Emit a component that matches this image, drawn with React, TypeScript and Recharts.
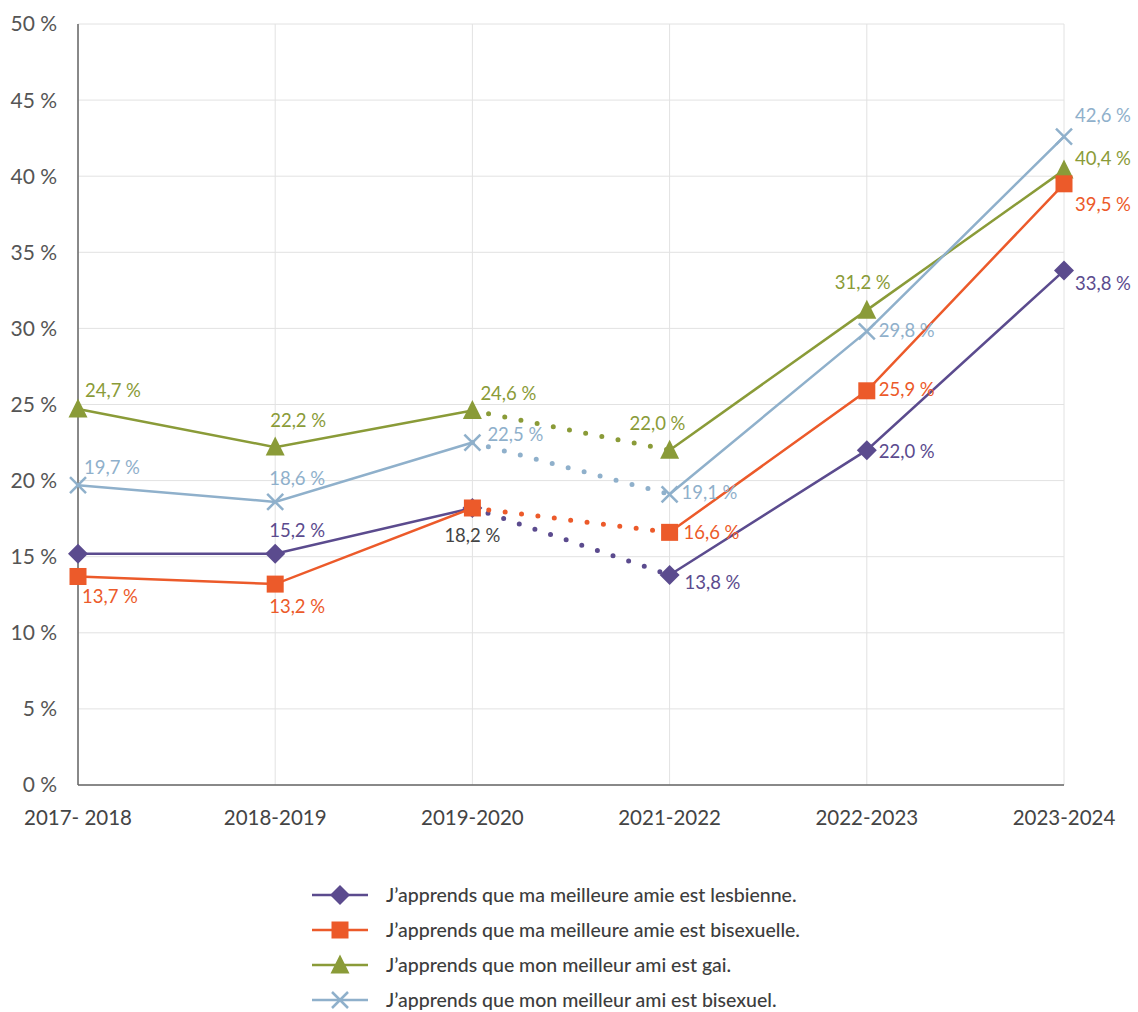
import React from 'react';
import { LineChart, Line, XAxis, YAxis, CartesianGrid, LabelList, Legend } from 'recharts';

const categories = ['2017- 2018', '2018-2019', '2019-2020', '2021-2022', '2022-2023', '2023-2024'];
const lesbienne = [15.2, 15.2, 18.2, 13.8, 22.0, 33.8];
const bisexuelle = [13.7, 13.2, 18.2, 16.6, 25.9, 39.5];
const gai = [24.7, 22.2, 24.6, 22.0, 31.2, 40.4];
const bisexuel = [19.7, 18.6, 22.5, 19.1, 29.8, 42.6];
const yTicks = [0, 5, 10, 15, 20, 25, 30, 35, 40, 45, 50];
const names = [
  'J\u2019apprends que ma meilleure amie est lesbienne.',
  'J\u2019apprends que ma meilleure amie est bisexuelle.',
  'J\u2019apprends que mon meilleur ami est gai.',
  'J\u2019apprends que mon meilleur ami est bisexuel.',
];
// dotted (missing year) segment between these indices
const gapStart = 2;
const gapEnd = 3;

// label placement (layout only): [dx, dy] from the point, null = no label
const placeLes: ([number, number] | null)[] = [null, [-6, -24], [-28, 27], [15, 7], [12, 1], [11, 12]];
const placeBisF: ([number, number] | null)[] = [[4, 20], [-6, 22], null, [14, 0], [12, -2], [11, 20]];
const placeGai: ([number, number] | null)[] = [[7, -19], [-5, -27], [8, -18], [-40, -27], [-32, -28], [11, -12]];
const placeBisM: ([number, number] | null)[] = [[6, -18], [-6, -24], [15, -9], [12, -2], [12, -1], [11, -22]];

const FONT = 'Lato, "Noto Sans", sans-serif';
const PURPLE = '#5b4b8e';
const ORANGE = '#ec5a2a';
const GREEN = '#8a9b38';
const BLUE = '#8fb0cb';

const fmt = (v: number) => v.toFixed(1).replace('.', ',') + '\u202f%';

const Diamond = ({ cx, cy, color, s = 10 }: any) => (
  <polygon points={`${cx},${cy - s} ${cx + s},${cy} ${cx},${cy + s} ${cx - s},${cy}`} fill={color} />
);
const Square = ({ cx, cy, color, s = 8.5 }: any) => (
  <rect x={cx - s} y={cy - s} width={2 * s} height={2 * s} fill={color} />
);
const Triangle = ({ cx, cy, color, s = 9.5 }: any) => (
  <polygon points={`${cx},${cy - s - 1} ${cx + s},${cy + s - 1} ${cx - s},${cy + s - 1}`} fill={color} />
);
const Cross = ({ cx, cy, color, s = 8 }: any) => (
  <g stroke={color} strokeWidth={2.5}>
    <line x1={cx - s} y1={cy - s} x2={cx + s} y2={cy + s} />
    <line x1={cx - s} y1={cy + s} x2={cx + s} y2={cy - s} />
  </g>
);

const SERIES = [
  { key: 'les', name: names[0], color: PURPLE, values: lesbienne, Shape: Diamond, place: placeLes },
  { key: 'gai', name: names[2], color: GREEN, values: gai, Shape: Triangle, place: placeGai },
  { key: 'bism', name: names[3], color: BLUE, values: bisexuel, Shape: Cross, place: placeBisM },
  { key: 'bisf', name: names[1], color: ORANGE, values: bisexuelle, Shape: Square, place: placeBisF },
];
const LEGEND_ORDER = ['les', 'bisf', 'gai', 'bism'];

const data = categories.map((cat, i) => {
  const row: any = { cat };
  SERIES.forEach((s) => {
    const v = s.values[i];
    row[s.key] = v;
    row[s.key + 'A'] = i <= gapStart ? v : null;
    row[s.key + 'B'] = i >= gapEnd ? v : null;
    row[s.key + 'D'] = i === gapStart || i === gapEnd ? v : null;
  });
  return row;
});

const makeLabel = (s: any) => (props: any) => {
  const { x, y, value, index } = props;
  const p = s.place[index];
  if (!p || value == null) return null;
  const color = s.key === 'les' && index === gapStart ? '#444444' : s.color;
  return (
    <text
      key={`${s.key}-lbl-${index}`}
      x={x + p[0]}
      y={y + p[1]}
      fill={color}
      fontSize={18.5}
      fontFamily={FONT}
      dominantBaseline="central"
      textAnchor="start"
    >
      {fmt(value)}
    </text>
  );
};

const LegendContent = () => (
  <div style={{ fontFamily: FONT }}>
    {LEGEND_ORDER.map((k) => {
      const s = SERIES.find((x) => x.key === k)!;
      const Shape = s.Shape;
      return (
        <div key={k} style={{ display: 'flex', alignItems: 'center', height: 35 }}>
          <svg width={74} height={30} style={{ display: 'block' }}>
            <line x1={0} y1={15} x2={56} y2={15} stroke={s.color} strokeWidth={2.5} />
            <Shape cx={28} cy={15} color={s.color} />
          </svg>
          <span style={{ fontSize: 19.5, color: '#3d3d3d', fontWeight: 500, whiteSpace: 'nowrap' }}>{s.name}</span>
        </div>
      );
    })}
  </div>
);

export default function App() {
  return (
    <div style={{ position: 'absolute', left: 0, top: 0, width: 1138, height: 1012, background: '#fff' }}>
      <LineChart width={1138} height={1012} data={data} margin={{ top: 24, right: 74, left: 18, bottom: 187 }}>
        <CartesianGrid stroke="#e2e2e2" strokeWidth={1} />
        <XAxis
          dataKey="cat"
          height={40}
          tickLine={false}
          tickSize={0}
          tickMargin={25}
          axisLine={{ stroke: '#666', strokeWidth: 1.5 }}
          tick={{ fill: '#444', fontSize: 20.5, fontFamily: FONT }}
          interval={0}
        />
        <YAxis
          width={60}
          domain={[0, 50]}
          ticks={yTicks}
          tickFormatter={(v: number) => `${v}\u202f%`}
          tickLine={false}
          tickSize={0}
          tickMargin={21}
          axisLine={{ stroke: '#666', strokeWidth: 1.5 }}
          tick={{ fill: '#555', fontSize: 21, fontFamily: FONT }}
          interval={0}
        />
        <Legend
          layout="vertical"
          align="center"
          verticalAlign="middle"
          content={<LegendContent />}
          wrapperStyle={{ position: 'absolute', left: 312, top: 877, width: 560 }}
        />
        {SERIES.map((s) => (
          <Line key={s.key + 'D'} dataKey={s.key + 'D'} stroke={s.color} strokeWidth={5} strokeDasharray="0 16.5"
            strokeLinecap="round" dot={false} activeDot={false} isAnimationActive={false} legendType="none" />
        ))}
        {SERIES.map((s) => (
          <Line key={s.key + 'A'} dataKey={s.key + 'A'} stroke={s.color} strokeWidth={2.5} dot={false}
            activeDot={false} isAnimationActive={false} legendType="none" />
        ))}
        {SERIES.map((s) => (
          <Line key={s.key + 'B'} dataKey={s.key + 'B'} stroke={s.color} strokeWidth={2.5} dot={false}
            activeDot={false} isAnimationActive={false} legendType="none" />
        ))}
        {SERIES.map((s) => (
          <Line
            key={s.key}
            dataKey={s.key}
            name={s.name}
            stroke="none"
            isAnimationActive={false}
            activeDot={false}
            dot={(p: any) => <s.Shape key={`${s.key}-dot-${p.index}`} cx={p.cx} cy={p.cy} color={s.color} />}
          >
            <LabelList dataKey={s.key} content={makeLabel(s)} />
          </Line>
        ))}
      </LineChart>
    </div>
  );
}
